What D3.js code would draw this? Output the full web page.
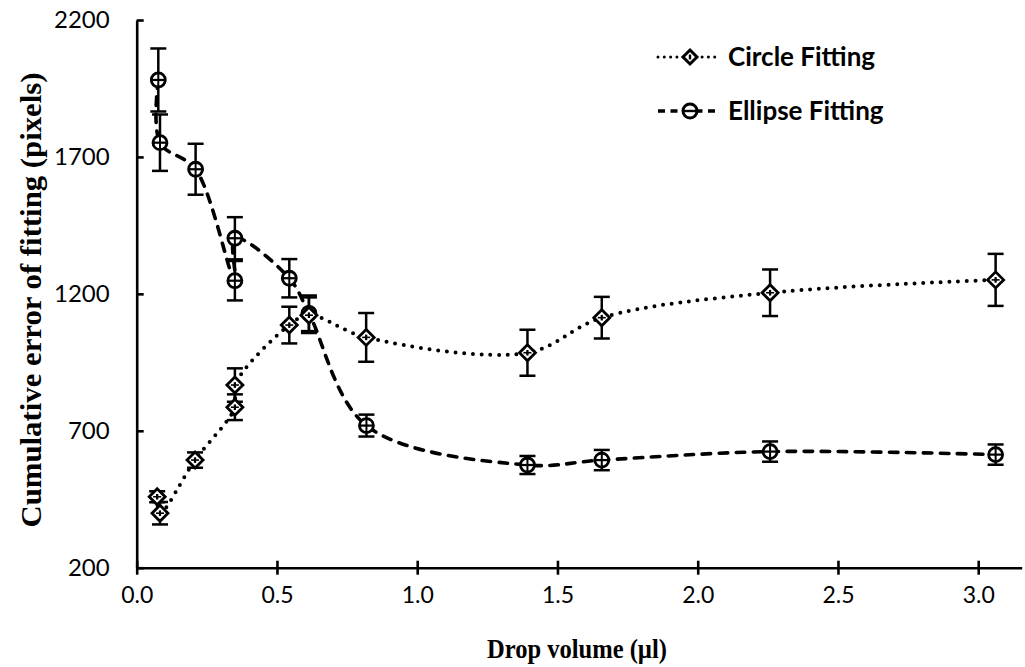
<!DOCTYPE html>
<html>
<head>
<meta charset="utf-8">
<script src="https://cdn.jsdelivr.net/npm/d3@7"></script>
<style>
  html, body { margin: 0; padding: 0; background: #fff; }
  svg { display: block; }
</style>
</head>
<body>
<svg id="chart" width="1025" height="667"></svg>
<script>
// Drop volume (µl) for each measurement, in the order the curves are traced
const circleVolume  = [0.073, 0.083, 0.208, 0.350, 0.350, 0.544, 0.614, 0.818, 1.393, 1.658, 2.258, 3.062];
const circleError   = [459, 399, 593, 786, 867, 1086, 1122, 1041, 985, 1113, 1204, 1251];
const circleErrBar  = [20, 41, 28, 47, 61, 67, 65, 89, 84, 76, 85, 95];

const ellipseVolume = [0.077, 0.083, 0.210, 0.350, 0.350, 0.544, 0.614, 0.819, 1.393, 1.658, 2.258, 3.062];
const ellipseError  = [1981, 1752, 1655, 1248, 1403, 1257, 1129, 719, 575, 593, 624, 613];
const ellipseErrBar = [115, 103, 93, 72, 77, 70, 65, 40, 33, 37, 37, 37];

const xTicks = [0, 0.5, 1.0, 1.5, 2.0, 2.5, 3.0];
const yTicks = [200, 700, 1200, 1700, 2200];
const seriesNames = ["Circle Fitting", "Ellipse Fitting"];

const svg = d3.select("#chart");

const x = d3.scaleLinear().domain([0, 3.155]).range([136.7, 1021.7]);
const y = d3.scaleLinear().domain([200, 2200]).range([567.7, 20]);

const tickFont = "Lato, 'Open Sans', sans-serif";
const serif = "'Liberation Serif', 'Times New Roman', serif";

// blur for the plotted markers
const defs = svg.append("defs");
defs.append("filter").attr("id", "soft")
  .attr("x", "-50%").attr("y", "-50%").attr("width", "200%").attr("height", "200%")
  .append("feGaussianBlur").attr("stdDeviation", 0.7);

// ---- axes ----
const xAxis = d3.axisBottom(x).tickValues(xTicks).tickFormat(d3.format(".1f"))
  .tickSizeInner(7).tickSizeOuter(0).tickPadding(21);
const gx = svg.append("g").attr("transform", `translate(0,${y(200)})`).call(xAxis);
gx.attr("font-size", null).attr("font-family", null);
gx.select(".domain").attr("stroke", "#000").attr("stroke-width", 2.6);
gx.selectAll(".tick line").attr("stroke", "#000").attr("stroke-width", 2.6).attr("y1", -7);
gx.selectAll(".tick text").style("font-family", tickFont).style("font-size", "23px")
  .attr("fill", "#000").attr("dy", "0.3em");

const yAxis = d3.axisLeft(y).tickValues(yTicks).tickFormat(d3.format("d"))
  .tickSizeInner(9).tickSizeOuter(0).tickPadding(18);
const gy = svg.append("g").attr("transform", `translate(${x(0)},0)`).call(yAxis);
gy.attr("font-size", null).attr("font-family", null);
gy.select(".domain").attr("stroke", "#000").attr("stroke-width", 2.6);
gy.selectAll(".tick line").attr("stroke", "#000").attr("stroke-width", 2.6).attr("x2", 7);
gy.selectAll(".tick text").style("font-family", tickFont).style("font-size", "24px")
  .attr("fill", "#000");

// axis titles
svg.append("text")
  .attr("x", 577).attr("y", 658)
  .attr("text-anchor", "middle")
  .attr("font-family", serif)
  .attr("font-weight", "bold").attr("font-size", 27)
  .attr("textLength", 180).attr("lengthAdjust", "spacingAndGlyphs")
  .text("Drop volume (µl)");

svg.append("text")
  .attr("transform", "translate(41,300) rotate(-90)")
  .attr("text-anchor", "middle")
  .attr("font-family", serif)
  .attr("font-weight", "bold").attr("font-size", 29)
  .attr("textLength", 455).attr("lengthAdjust", "spacingAndGlyphs")
  .text("Cumulative error of fitting (pixels)");

// ---- series ----
const circleData = circleVolume.map((v, i) => ({ v, e: circleError[i], s: circleErrBar[i] }));
const ellipseData = ellipseVolume.map((v, i) => ({ v, e: ellipseError[i], s: ellipseErrBar[i] }));

const line = d3.line().x(d => x(d.v)).y(d => y(d.e)).curve(d3.curveCatmullRom.alpha(0.5));

function errorBars(data) {
  const g = svg.append("g").attr("stroke", "#000").attr("stroke-width", 2.5).attr("fill", "none");
  data.forEach(d => {
    const cx = x(d.v), top = y(d.e + d.s), bot = y(d.e - d.s);
    g.append("line").attr("x1", cx).attr("x2", cx).attr("y1", top).attr("y2", bot);
    g.append("line").attr("x1", cx - 8).attr("x2", cx + 8).attr("y1", top).attr("y2", top);
    g.append("line").attr("x1", cx - 8).attr("x2", cx + 8).attr("y1", bot).attr("y2", bot);
  });
}

errorBars(ellipseData);
errorBars(circleData);

svg.append("path").datum(ellipseData)
  .attr("d", line).attr("fill", "none").attr("stroke", "#000")
  .attr("stroke-width", 3.6).attr("stroke-dasharray", "8.5,8.5").attr("stroke-linecap", "round");

svg.append("path").datum(circleData)
  .attr("d", line).attr("fill", "none").attr("stroke", "#000")
  .attr("stroke-width", 4).attr("stroke-dasharray", "0,8.7").attr("stroke-linecap", "round");

// marker shapes
function diamond(g, cx, cy, r, sw) {
  g.append("path")
    .attr("d", `M${cx},${cy - r}L${cx + r},${cy}L${cx},${cy + r}L${cx - r},${cy}Z`)
    .attr("fill", "#fff").attr("stroke", "#000").attr("stroke-width", sw);
  g.append("line").attr("x1", cx).attr("x2", cx).attr("y1", cy - r * 0.35).attr("y2", cy + r * 0.35)
    .attr("stroke", "#000").attr("stroke-width", sw * 0.8);
}
function ring(g, cx, cy, r, sw) {
  g.append("circle").attr("cx", cx).attr("cy", cy).attr("r", r)
    .attr("fill", "#fff").attr("stroke", "#000").attr("stroke-width", sw);
  g.append("line").attr("x1", cx - r).attr("x2", cx + r).attr("y1", cy).attr("y2", cy)
    .attr("stroke", "#000").attr("stroke-width", sw * 0.8);
}

const mk = svg.append("g").attr("filter", "url(#soft)");
ellipseData.forEach(d => {
  const g = mk.append("g");
  ring(g, x(d.v), y(d.e), 7, 2.8);
  g.append("line").attr("x1", x(d.v)).attr("x2", x(d.v)).attr("y1", y(d.e) - 7).attr("y2", y(d.e) + 7)
    .attr("stroke", "#000").attr("stroke-width", 2);
});
circleData.forEach(d => {
  const g = mk.append("g");
  diamond(g, x(d.v), y(d.e), 8, 2.8);
  g.append("line").attr("x1", x(d.v) - 4).attr("x2", x(d.v) + 4).attr("y1", y(d.e)).attr("y2", y(d.e))
    .attr("stroke", "#000").attr("stroke-width", 1.6);
});

// ---- legend ----
const legend = svg.append("g");
const legendRows = [
  { name: seriesNames[0], yy: 57, dash: "0,6.3", w: 3, shape: diamond },
  { name: seriesNames[1], yy: 111, dash: "7,5.5", w: 3.4, shape: ring }
];
legendRows.forEach(r => {
  legend.append("line").attr("x1", 658).attr("x2", 720).attr("y1", r.yy).attr("y2", r.yy)
    .attr("stroke", "#000").attr("stroke-width", r.w)
    .attr("stroke-dasharray", r.dash).attr("stroke-linecap", r.dash.startsWith("0") ? "round" : "butt");
  r.shape(legend, 690, r.yy, 7, 3);
  legend.append("text").attr("x", 728).attr("y", r.yy + 9)
    .attr("font-family", "Lato, 'Open Sans', sans-serif").attr("font-weight", "bold")
    .attr("font-size", 26).attr("fill", "#000")
    .text(r.name);
});
</script>
</body>
</html>
